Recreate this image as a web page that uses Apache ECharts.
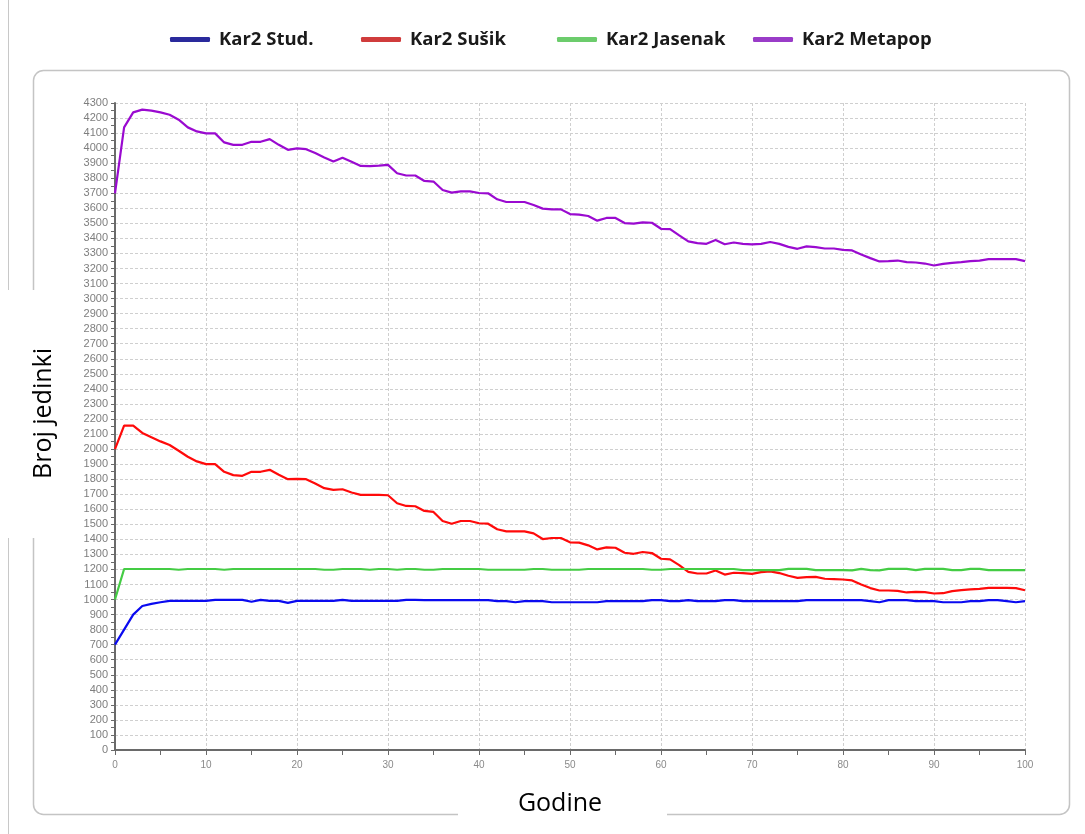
<!DOCTYPE html>
<html>
<head>
<meta charset="utf-8">
<script src="https://cdn.jsdelivr.net/npm/echarts@6/dist/echarts.min.js"></script>
<style>
html,body{margin:0;padding:0;background:#fff;}
#c{width:1085px;height:834px;}
</style>
</head>
<body>
<div id="c"></div>
<script>
var seriesNames = ['Kar2 Stud.', 'Kar2 Sušik', 'Kar2 Jasenak', 'Kar2 Metapop'];
var years = [];
for (var i = 0; i <= 100; i++) years.push(i);

var stud = [700,800,900,957,971,982,991,991,991,991,
991,998,998,998,998,985,998,991,991,978,
991,991,991,991,991,998,991,991,991,991,
991,991,998,998,996,996,996,996,996,996,
996,996,989,989,982,989,989,989,982,982,
982,982,982,982,989,989,989,989,989,996,
996,989,989,996,989,989,989,996,996,989,
989,989,989,989,989,989,996,996,996,996,
996,996,996,989,982,996,996,996,989,989,
989,982,982,982,989,989,996,996,989,982,989];

var susik = [2000,2156,2156,2107,2078,2051,2027,1989,1949,1918,
1900,1900,1849,1827,1822,1849,1849,1862,1829,1800,
1802,1800,1771,1740,1729,1733,1711,1696,1696,1696,
1693,1640,1622,1620,1589,1582,1522,1504,1522,1522,
1507,1504,1467,1453,1453,1453,1440,1402,1409,1409,
1380,1378,1360,1333,1347,1344,1311,1304,1316,1309,
1271,1267,1229,1184,1173,1173,1193,1166,1178,1176,
1171,1182,1187,1176,1158,1144,1149,1151,1138,1136,
1133,1127,1100,1076,1060,1060,1058,1047,1051,1049,
1040,1042,1056,1062,1067,1071,1078,1078,1078,1076,1062];

var jasenak = [1000,1203,1203,1203,1203,1203,1203,1198,1203,1203,
1203,1203,1198,1203,1203,1203,1203,1203,1203,1203,
1203,1203,1203,1198,1198,1203,1203,1203,1198,1203,
1203,1198,1203,1203,1198,1198,1203,1203,1203,1203,
1203,1198,1198,1198,1198,1198,1203,1203,1198,1198,
1198,1198,1203,1203,1203,1203,1203,1203,1203,1198,
1198,1203,1203,1203,1203,1203,1203,1203,1203,1196,
1196,1196,1196,1196,1204,1204,1204,1196,1196,1196,
1196,1194,1204,1196,1194,1204,1204,1204,1196,1204,
1204,1204,1196,1196,1204,1204,1196,1196,1196,1196,1196];

var metapop = [3700,4138,4238,4256,4249,4238,4222,4189,4138,4111,
4098,4098,4038,4022,4022,4042,4042,4060,4022,3989,
3998,3993,3967,3938,3911,3936,3909,3882,3880,3884,
3889,3833,3818,3818,3782,3778,3722,3704,3713,3713,
3702,3700,3660,3642,3642,3642,3622,3598,3593,3593,
3562,3558,3549,3518,3536,3536,3502,3498,3507,3504,
3464,3462,3420,3380,3369,3364,3389,3361,3373,3364,
3360,3364,3376,3364,3344,3331,3347,3342,3333,3333,
3324,3320,3293,3269,3247,3249,3253,3242,3240,3233,
3220,3231,3238,3242,3249,3253,3262,3262,3262,3262,3249];

var lineColors = ['#0a0af0', '#ff0a0a', '#44cc44', '#9a0ad0'];
var legendColors = ['#2a2a9c', '#d03c3c', '#6ccc6c', '#9a3cc8'];
var legendLefts = [165, 356, 552, 748];

function pairs(arr) { return years.map(function (y, i) { return [y, arr[i]]; }); }
var allData = [stud, susik, jasenak, metapop];

var chart = echarts.init(document.getElementById('c'), null, {renderer: 'canvas'});
var option = {
  backgroundColor: '#fff',
  animation: false,
  graphic: {
    elements: [
      {type: 'line', z: -10, shape: {x1: 8.5, y1: 0, x2: 8.5, y2: 834}, style: {stroke: '#c8c8c8', lineWidth: 1}},
      {type: 'rect', z: -10, shape: {x: 33.5, y: 70.5, width: 1036, height: 744, r: 10}, style: {fill: 'none', stroke: '#c4c4c4', lineWidth: 1.5}},
      {type: 'rect', z: -5, shape: {x: 2, y: 290, width: 56, height: 248}, style: {fill: '#fff'}},
      {type: 'rect', z: -5, shape: {x: 458, y: 805, width: 209, height: 20}, style: {fill: '#fff'}}
    ]
  },
  legend: seriesNames.map(function (n, k) {
    return {
      data: [{name: n, itemStyle: {color: legendColors[k]}, lineStyle: {color: legendColors[k]}}],
      left: legendLefts[k],
      top: 25,
      icon: 'roundRect',
      itemWidth: 40,
      itemHeight: 5,
      textStyle: {fontFamily: 'Open Sans', fontWeight: 'bold', fontSize: 18.5, color: '#1a1a1a', padding: [0, 0, 0, 4]}
    };
  }),
  grid: {left: 115, right: 60, top: 103, bottom: 84, containLabel: false},
  xAxis: {
    type: 'value', min: 0, max: 100, interval: 10,
    name: 'Godine', nameLocation: 'middle', nameGap: 41,
    nameTextStyle: {fontFamily: 'Open Sans', fontSize: 25, color: '#000', padding: [0, 20, 0, 0]},
    axisLine: {show: true, onZero: false, lineStyle: {color: '#6a6a6a', width: 2}},
    axisTick: {show: true, length: 5, lineStyle: {color: '#6a6a6a'}},
    minorTick: {show: true, splitNumber: 2, length: 5, lineStyle: {color: '#6a6a6a'}},
    axisLabel: {fontFamily: 'Liberation Sans', fontSize: 10, color: '#8a8a8a', margin: 10},
    splitLine: {show: true, lineStyle: {color: '#cfcfcf', type: [3, 2], width: 1}}
  },
  yAxis: {
    type: 'value', min: 0, max: 4300, interval: 100,
    name: 'Broj jedinki', nameLocation: 'middle', nameGap: 59,
    nameTextStyle: {fontFamily: 'Open Sans', fontSize: 25, color: '#000', padding: [0, 0, 0, 26]},
    axisLine: {show: true, onZero: false, lineStyle: {color: '#6a6a6a', width: 2}},
    axisTick: {show: true, length: 4, lineStyle: {color: '#6a6a6a'}},
    minorTick: {show: true, splitNumber: 2, length: 4, lineStyle: {color: '#6a6a6a'}},
    axisLabel: {fontFamily: 'Liberation Sans', fontSize: 11, color: '#7e7e7e', margin: 7,
      formatter: function (v) { return String(v); }},
    splitLine: {show: true, lineStyle: {color: '#cfcfcf', type: [3, 2], width: 1}}
  },
  series: seriesNames.map(function (n, k) {
    return {
      name: n, type: 'line', data: pairs(allData[k]),
      showSymbol: false, symbol: 'none',
      lineStyle: {color: lineColors[k], width: 2.2},
      itemStyle: {color: lineColors[k]}
    };
  })
};
chart.setOption(option);
</script>
</body>
</html>
